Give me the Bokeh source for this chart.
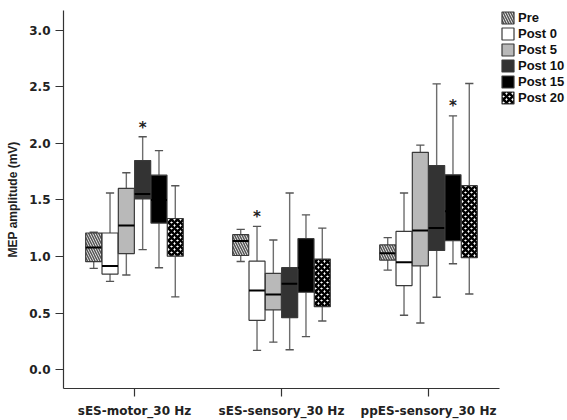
from bokeh.plotting import figure
from bokeh.models import Legend, LegendItem, FixedTicker, Range1d
from bokeh.embed import file_html
from bokeh.resources import INLINE
from bokeh.core.properties import value

# ---------------- data ----------------
groups = ["sES-motor_30 Hz", "sES-sensory_30 Hz", "ppES-sensory_30 Hz"]
series = ["Pre", "Post 0", "Post 5", "Post 10", "Post 15", "Post 20"]

pre_low = [0.895, 0.956, 0.880]
pre_q1 = [0.954, 1.009, 0.968]
pre_med = [1.079, 1.137, 1.029]
pre_q3 = [1.208, 1.193, 1.102]
pre_high = [1.215, 1.240, 1.167]

post0_low = [0.780, 0.170, 0.480]
post0_q1 = [0.845, 0.436, 0.743]
post0_med = [0.915, 0.699, 0.950]
post0_q3 = [1.208, 0.959, 1.222]
post0_high = [1.561, 1.266, 1.561]

post5_low = [0.836, 0.243, 0.412]
post5_q1 = [1.026, 0.529, 0.918]
post5_med = [1.275, 0.664, 1.231]
post5_q3 = [1.602, 0.851, 1.921]
post5_high = [1.740, 1.146, 1.985]

post10_low = [1.061, 0.175, 0.640]
post10_q1 = [1.509, 0.459, 1.053]
post10_med = [1.553, 0.760, 1.252]
post10_q3 = [1.848, 0.901, 1.804]
post10_high = [2.059, 1.561, 2.526]

post15_low = [0.901, 0.292, 0.936]
post15_q1 = [1.296, 0.684, 1.140]
post15_med = [1.500, 0.900, 1.400]
post15_q3 = [1.719, 1.158, 1.722]
post15_high = [1.936, 1.368, 2.243]

post20_low = [0.643, 0.430, 0.669]
post20_q1 = [1.003, 0.556, 0.989]
post20_med = [1.200, 0.770, 1.250]
post20_q3 = [1.336, 0.977, 1.626]
post20_high = [1.626, 1.251, 2.529]

star_group = [0, 1, 2]
star_series = [3, 1, 4]
star_y = [2.14, 1.35, 2.33]

y_ticks = [0.0, 0.5, 1.0, 1.5, 2.0, 2.5, 3.0]

stats = [
    (pre_low, pre_q1, pre_med, pre_q3, pre_high),
    (post0_low, post0_q1, post0_med, post0_q3, post0_high),
    (post5_low, post5_q1, post5_med, post5_q3, post5_high),
    (post10_low, post10_q1, post10_med, post10_q3, post10_high),
    (post15_low, post15_q1, post15_med, post15_q3, post15_high),
    (post20_low, post20_q1, post20_med, post20_q3, post20_high),
]

# ---------------- styles ----------------
styles = [
    dict(fill_color="#f2f2f2", hatch_pattern="\\", hatch_color="#555555", hatch_scale=5, hatch_weight=1.5),
    dict(fill_color="#ffffff"),
    dict(fill_color="#b9b9b9"),
    dict(fill_color="#333333"),
    dict(fill_color="#000000"),
    dict(fill_color="#ffffff", hatch_pattern="x", hatch_color="#000000", hatch_scale=6, hatch_weight=2.6),
]
show_median = [True, True, True, True, True, False]

BOX_STEP = 0.111
BOX_W = 0.109
CAP_HALF = 0.028
X0, X1 = 0.517, 3.483

p = figure(width=567, height=420,
           x_range=Range1d(X0, 3.932), y_range=Range1d(-0.167, 3.175),
           output_backend="svg", toolbar_location=None,
           min_border_left=63, min_border_top=10, min_border_bottom=29, min_border_right=2)
p.background_fill_color = "white"
p.border_fill_color = "white"
p.outline_line_color = None
p.xgrid.visible = False
p.ygrid.visible = False

legend_items = []
for si, name in enumerate(series):
    low, q1, med, q3, high = stats[si]
    xs = [gi + 1 + (si - 2.5) * BOX_STEP for gi in range(len(groups))]
    p.segment(x0=xs, y0=q3, x1=xs, y1=high, line_color="#6e6e6e", line_width=1.4)
    p.segment(x0=xs, y0=low, x1=xs, y1=q1, line_color="#6e6e6e", line_width=1.4)
    p.segment(x0=[x - CAP_HALF for x in xs], y0=high, x1=[x + CAP_HALF for x in xs], y1=high,
              line_color="#555555", line_width=1.4)
    p.segment(x0=[x - CAP_HALF for x in xs], y0=low, x1=[x + CAP_HALF for x in xs], y1=low,
              line_color="#555555", line_width=1.4)
    r = p.quad(left=[x - BOX_W / 2 for x in xs], right=[x + BOX_W / 2 for x in xs],
               bottom=q1, top=q3, line_color="#3a3a3a", line_width=1.2, **styles[si])
    if show_median[si]:
        p.segment(x0=[x - BOX_W / 2 for x in xs], y0=med, x1=[x + BOX_W / 2 for x in xs], y1=med,
                  line_color="#000000", line_width=2)
    legend_items.append(LegendItem(label=name, renderers=[r]))

sx = [g + 1 + (s - 2.5) * BOX_STEP for g, s in zip(star_group, star_series)]
p.text(x=sx, y=star_y, text=["*"] * len(sx), text_font=value("DejaVu Sans"),
       text_font_style="bold", text_font_size="15px", text_align="center",
       text_baseline="middle", text_color="#222222")

p.xaxis.ticker = FixedTicker(ticks=[1, 2, 3])
p.xaxis.major_label_overrides = {1: groups[0], 2: groups[1], 3: groups[2]}
p.xaxis.bounds = (X0, X1)
p.yaxis.ticker = FixedTicker(ticks=y_ticks)
p.yaxis.major_label_overrides = {t: f"{t:.1f}" for t in y_ticks}
p.yaxis.axis_label = "MEP amplitude (mV)"
for ax in (p.xaxis[0], p.yaxis[0]):
    ax.axis_line_color = "#333333"
    ax.axis_line_width = 1.2
    ax.major_tick_line_color = "#333333"
    ax.major_tick_line_width = 1.2
    ax.major_tick_in = 0
    ax.minor_tick_line_color = None
    ax.major_label_text_font = "DejaVu Sans"
    ax.major_label_text_font_style = "bold"
    ax.major_label_text_font_size = "12px"
    ax.major_label_text_color = "#222222"
p.xaxis.major_tick_out = 8
p.xaxis.major_label_standoff = 7
p.yaxis.major_tick_out = 8
p.yaxis.major_label_standoff = 5
p.yaxis.axis_label_text_font = "Liberation Sans"
p.yaxis.axis_label_text_font_style = "bold"
p.yaxis.axis_label_text_font_size = "12px"
p.yaxis.axis_label_text_color = "#222222"
p.yaxis.axis_label_standoff = 6

legend = Legend(items=legend_items, location=(437, 283))
legend.margin = 0
legend.padding = 0
legend.spacing = 1
legend.border_line_color = None
legend.background_fill_alpha = 0
legend.glyph_width = 15
legend.glyph_height = 15
legend.label_height = 15
legend.label_standoff = 3
legend.label_text_font = "Liberation Sans"
legend.label_text_font_style = "bold"
legend.label_text_font_size = "13px"
legend.label_text_color = "#111111"
legend.label_text_baseline = "middle"
p.add_layout(legend)

open("out.html", "w").write(file_html(p, INLINE))
